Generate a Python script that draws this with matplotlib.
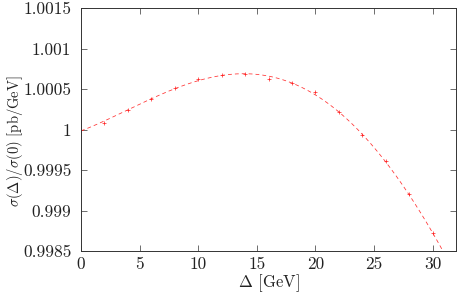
import numpy as np
import matplotlib
matplotlib.use("Agg")
import matplotlib.pyplot as plt

plt.rcParams["font.family"] = "cmr10"
plt.rcParams["mathtext.fontset"] = "cm"
plt.rcParams["axes.formatter.use_mathtext"] = True

# data points (every 2 GeV)
delta = [0, 2, 4, 6, 8, 10, 12, 14, 16, 18, 20, 22, 24, 26, 28, 30]
ratio = [1.0, 1.00008, 1.000236, 1.00038, 1.000517, 1.00062, 1.000678, 1.000682,
         1.00062, 1.00057, 1.00046, 1.000215, 0.999926, 0.999607, 0.999202, 0.99872]

yticks = [0.9985, 0.999, 0.9995, 1.0, 1.0005, 1.001, 1.0015]
ytick_labels = ["0.9985", "0.999", "0.9995", "1", "1.0005", "1.001", "1.0015"]
xticks = [0, 5, 10, 15, 20, 25, 30]

fig = plt.figure(figsize=(4.57, 2.93), dpi=100)
ax = fig.add_axes([81 / 457, 42 / 293, 375 / 457, 243 / 293])

# smooth fit curve
coef = np.polyfit(delta, ratio, 4)
xs = np.linspace(0, 32, 300)
ax.plot(xs, np.polyval(coef, xs), color="#ff3030", linestyle=(0, (5, 4)),
        linewidth=0.55)

# points
ax.plot(delta, ratio, linestyle="none", marker="+", markersize=3.5,
        markeredgewidth=0.5, color="#ff2020")

ax.set_xlim(0, 32)
ax.set_ylim(0.9985, 1.0015)
ax.set_xticks(xticks)
ax.set_xticklabels([str(t) for t in xticks])
ax.set_yticks(yticks)
ax.set_yticklabels(ytick_labels)
ax.tick_params(direction="in", top=True, right=True, labelsize=12.5, length=4,
               width=0.6, colors="#555555", labelcolor="#222222")
ax.tick_params(axis="y", pad=7)
ax.tick_params(axis="x", pad=4)
for s in ax.spines.values():
    s.set_linewidth(0.7)
    s.set_color("#333333")

ax.set_xlabel(r"$\Delta$ [GeV]", fontsize=12, labelpad=0, color="#222222")
ax.set_ylabel(r"$\sigma(\Delta)/\sigma(0)$ [pb/GeV]", fontsize=10.5,
              color="#222222")
ax.yaxis.set_label_coords(-56 / 375, (251 - 141) / 243)

fig.savefig("out.png", dpi=100)
